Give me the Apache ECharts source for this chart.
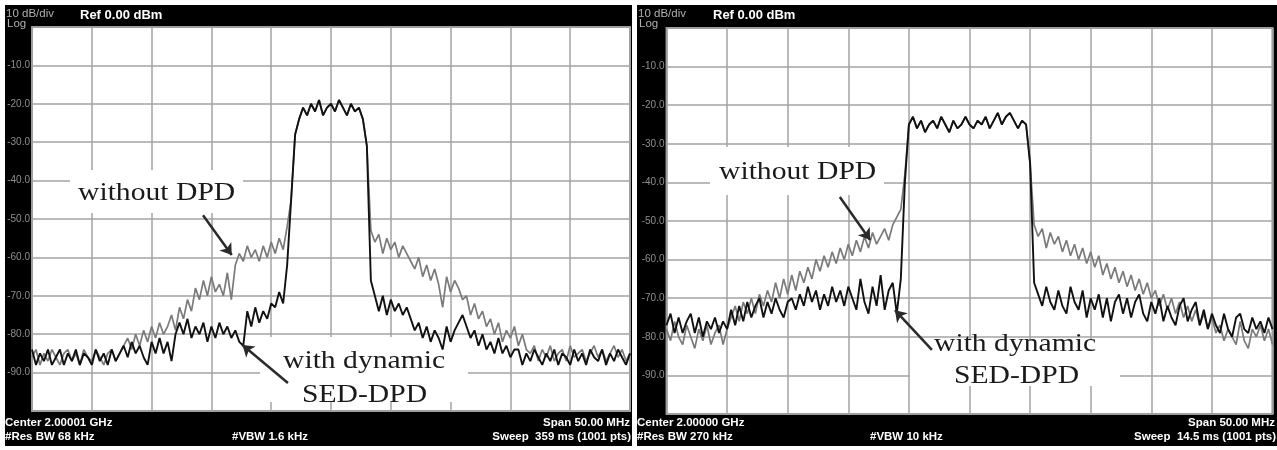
<!DOCTYPE html>
<html>
<head>
<meta charset="utf-8">
<script src="https://cdn.jsdelivr.net/npm/echarts@6/dist/echarts.min.js"></script>
<style>
	html, body { margin: 0; padding: 0; background: #fff; }
	#chart { width: 1277px; height: 450px; }
</style>
</head>
<body>
<div id="chart"></div>
<script>
	// span of each trace (MHz, centred), 151 sweep points
	var spanMHz = 50;

	// left screen: dynamic SED-DPD run
	var leftWithout = [
		-86, -84, -88, -85, -87, -84, -86, -88, -85, -84, -87, -85, -88, -84, -86, -87, -84, -86, -88, -85, -84, -87, -85,
		-83, -81, -84, -80, -83,
		-79, -82, -78, -81, -77, -80, -78, -75, -79,
		-73, -76, -71, -74,
		-68, -71, -66, -70, -65, -69, -67, -70, -64,
		-71,
		-62, -59, -61, -57, -60,
		-58, -61, -57, -60, -56, -59, -55, -58,
		-52, -45, -28,
		-24, -21, -23, -20, -22, -19, -23, -21, -20, -22, -19, -21, -23, -20, -22, -21, -24, -31,
		-53,
		-56, -54, -59, -55, -58, -56, -60, -57, -59, -61,
		-63, -60, -65, -62, -66, -63, -67, -73, -65, -69, -66, -68, -71,
		-70, -75, -72, -76, -74, -78, -76,
		-80, -77, -82, -79, -81, -78, -83, -80, -84,
		-85, -83, -87, -84, -86, -83, -87, -85, -84, -87, -83, -86, -85, -84, -87, -85, -83, -86, -84, -87, -85, -83, -86, -84, -87, -85
	];
	var leftWith = [
		-84, -88, -85, -87, -84, -88, -86, -84, -88, -85, -87, -84, -88, -85, -86, -88, -84, -87, -85, -88, -84, -87, -85,
		-83, -86, -82, -85, -83, -86, -88, -82, -85, -81, -85, -82, -87,
		-80,
		-77, -80, -76, -81, -78, -80, -77, -82, -78, -81, -77, -80, -78, -81, -79, -82,
		-83, -74, -78, -73, -77, -74, -76, -72,
		-73, -69, -72,
		-62, -45, -28,
		-24, -21, -23, -20, -22, -19, -23, -21, -20, -22, -19, -21, -23, -20, -22, -21, -24,
		-31,
		-66,
		-70, -74, -70, -75, -71, -74, -72, -75, -73, -76,
		-79, -77, -81, -78, -82, -79, -81, -84, -78, -82, -79, -77, -75,
		-78, -81, -79, -83, -80, -84, -82, -85, -81, -85, -83, -86, -84,
		-84, -88, -85, -87, -84, -86, -88, -85, -87, -84, -88, -85, -86, -88, -84, -87, -85, -88, -84, -86, -87, -84, -88, -85, -87, -84, -86, -88, -85
	];

	// right screen
	var rightWithout = [
		-78, -81, -76, -80, -82, -77, -80, -83, -78, -81, -77, -82, -79, -77, -82, -78,
		-75, -72, -76, -71, -74, -70, -74, -69, -72,
		-68, -71, -66, -70, -65, -69, -64, -68, -63, -66, -62,
		-65, -60, -63, -59, -62, -58, -61, -57, -60, -56, -59,
		-55, -58, -54, -57, -53, -56, -54, -52, -55, -51, -49,
		-47, -38,
		-25, -23, -26, -24, -27, -25, -24, -26, -23, -25, -27, -24, -26, -25, -23, -25, -26, -24, -25, -23, -26, -24, -22, -25, -23, -22, -24, -26, -24, -25,
		-35,
		-51,
		-54, -52, -57, -53, -56, -54, -58, -55, -59, -56, -60, -57, -61, -58,
		-62, -59, -64, -61, -65, -62, -66, -63, -67, -64, -68, -65, -69, -66, -70,
		-68, -72, -69, -73, -70, -74, -71, -75, -72, -76, -73, -77, -74, -78, -75,
		-79, -77, -81, -78, -80, -82, -76, -81, -83, -78, -80, -77, -81, -78, -82
	];
	var rightWith = [
		-77, -74, -79, -75, -79, -76, -74, -79, -75, -80, -76, -78, -75, -79, -76, -78,
		-73, -77, -72, -76, -71, -75, -72, -70, -75, -71, -74, -70, -73, -75, -71,
		-70, -73, -69, -72, -67, -71, -68, -73, -69, -72, -67, -71, -68, -72, -67,
		-70, -73, -65, -71, -74, -67, -72, -64, -73, -68, -66, -74, -65,
		-40,
		-25, -23, -26, -24, -27, -25, -24, -26, -23, -25, -27, -24, -26, -25, -23, -25, -26, -24, -25, -23, -26, -24, -22, -25, -23, -22, -24, -26, -24, -25,
		-35,
		-66,
		-69, -72, -67, -71, -73, -68, -72, -74, -67, -71, -73, -68, -75, -70,
		-73, -69, -75, -70, -76, -71, -69, -74, -70, -75, -71, -69, -74, -76, -71,
		-74, -70, -76, -72, -75, -77, -72, -70, -76, -73, -71, -77, -73, -78, -74,
		-77, -79, -74, -78, -80, -75, -74, -78, -79, -75, -78, -76, -79, -75, -78
	];

	// screen annotations text
	var leftInfo = ['Center 2.00001 GHz', '#Res BW 68 kHz', '#VBW 1.6 kHz', 'Span 50.00 MHz', 'Sweep  359 ms (1001 pts)'];
	var rightInfo = ['Center 2.00000 GHz', '#Res BW 270 kHz', '#VBW 10 kHz', 'Span 50.00 MHz', 'Sweep  14.5 ms (1001 pts)'];

	// arrows in data units [MHz, dBm]: from -> to
	var leftArrows = [[[-10.7, -49.0], [-8.3, -59.4]], [[-3.6, -92.7], [-7.4, -82.8]]];
	var rightArrows = [[[-10.7, -43.8], [-8.2, -54.9]], [[-3.1, -83.4], [-6.15, -73.1]]];

	function toPairs(vals) {
		var step = spanMHz / (vals.length - 1);
		return vals.map(function (v, i) {
			return [-spanMHz / 2 + i * step, v];
		});
	}

	var panels = [
		{ x: 5, w: 627, left: 32, width: 598, top: 27, height: 384, info: leftInfo, vbw: 232, right: 630,
			boxes: [[70, 170, 173, 43], [260, 337, 208, 65]],
			labels: [['without DPD', 78, 193], ['with dynamic', 283, 361], ['SED-DPD', 302, 395]] },
		{ x: 637, w: 640, left: 666.5, width: 606, top: 28, height: 386, info: rightInfo, vbw: 870, right: 1275,
			boxes: [[710, 147, 174, 48], [910, 340, 210, 46]],
			labels: [['without DPD', 719, 172], ['with dynamic', 934, 344], ['SED-DPD', 954, 376]] }
	];

	var gridCol = '#a3a3a3';
	var infoFont = 'bold 11.5px "Liberation Sans", Arial, sans-serif';
	var graphic = [];

	panels.forEach(function (p) {
		graphic.push({ type: 'rect', z: -10, shape: { x: p.x, y: 5, width: p.w, height: 441 }, style: { fill: '#000' } });
		graphic.push({ type: 'text', z: 5, x: p.x + 1, y: 14, style: { text: '10 dB/div', fill: '#b0b0b0', font: '11.5px "Liberation Sans", Arial', textVerticalAlign: 'middle' } });
		graphic.push({ type: 'text', z: 5, x: p.x + 2, y: 24, style: { text: 'Log', fill: '#b0b0b0', font: '11.5px "Liberation Sans", Arial', textVerticalAlign: 'middle' } });
		graphic.push({ type: 'text', z: 5, x: p.x + (p.x === 5 ? 75 : 76), y: 15, style: { text: 'Ref 0.00 dBm', fill: '#fff', font: 'bold 13px "Liberation Sans", Arial', textVerticalAlign: 'middle' } });

		graphic.push({ type: 'text', z: 5, x: p.x, y: 423, style: { text: p.info[0], fill: '#fff', font: infoFont, textVerticalAlign: 'middle' } });
		graphic.push({ type: 'text', z: 5, x: p.x, y: 437, style: { text: p.info[1], fill: '#fff', font: infoFont, textVerticalAlign: 'middle' } });
		graphic.push({ type: 'text', z: 5, x: p.vbw, y: 437, style: { text: p.info[2], fill: '#fff', font: infoFont, textVerticalAlign: 'middle' } });
		graphic.push({ type: 'text', z: 5, x: p.right, y: 423, style: { text: p.info[3], fill: '#fff', font: infoFont, textAlign: 'right', textVerticalAlign: 'middle' } });
		graphic.push({ type: 'text', z: 5, x: p.right + 1, y: 437, style: { text: p.info[4], fill: '#fff', font: infoFont, textAlign: 'right', textVerticalAlign: 'middle' } });

		p.boxes.forEach(function (b) {
			graphic.push({ type: 'rect', z: 1, shape: { x: b[0], y: b[1], width: b[2], height: b[3] }, style: { fill: '#fff' } });
		});
		p.labels.forEach(function (l) {
			graphic.push({ type: 'text', z: 6, x: l[1], y: l[2], scaleX: 1.14,
				style: { text: l[0], fill: '#1a1a1a', font: '26px "Liberation Serif", "Times New Roman", serif', textVerticalAlign: 'middle' } });
		});
	});

	function makeAxisX(idx) {
		return {
			type: 'value', gridIndex: idx, min: -25, max: 25, interval: 5,
			axisLabel: { show: false }, axisLine: { show: false }, axisTick: { show: false },
			splitLine: { show: true, lineStyle: { color: gridCol, width: 1.5 } }
		};
	}

	function makeAxisY(idx) {
		return {
			type: 'value', gridIndex: idx, min: -100, max: 0, interval: 10,
			axisLine: { show: false }, axisTick: { show: false },
			axisLabel: {
				color: '#8f8f8f', fontSize: 10, fontFamily: '"Liberation Sans", Arial', margin: 2,
				formatter: function (v) {
					return (v === 0 || v === -100) ? '' : v.toFixed(1);
				}
			},
			splitLine: { show: true, lineStyle: { color: gridCol, width: 1.5 } }
		};
	}

	function arrowLine(list) {
		return {
			silent: true,
			animation: false,
			symbol: ['none', 'arrow'],
			symbolSize: 11,
			lineStyle: { color: '#2a2a2a', width: 2.5, type: 'solid' },
			label: { show: false },
			data: list.map(function (a) {
				return [{ coord: a[0] }, { coord: a[1] }];
			})
		};
	}

	function trace(name, idx, vals, color, width, z, arrows) {
		var s = {
			name: name, type: 'line', xAxisIndex: idx, yAxisIndex: idx,
			data: toPairs(vals), symbol: 'none', z: z, silent: true,
			lineStyle: { color: color, width: width }
		};
		if (arrows) s.markLine = arrowLine(arrows);
		return s;
	}

	var chart = echarts.init(document.getElementById('chart'));
	chart.setOption({
		animation: false,
		backgroundColor: '#fff',
		grid: panels.map(function (p) {
			return { left: p.left, top: p.top, width: p.width, height: p.height, show: true,
				backgroundColor: '#fff', borderColor: '#8e8e8e', borderWidth: 2 };
		}),
		xAxis: [makeAxisX(0), makeAxisX(1)],
		yAxis: [makeAxisY(0), makeAxisY(1)],
		graphic: graphic,
		series: [
			trace('without DPD', 0, leftWithout, '#7a7a7a', 1.7, 2),
			trace('with dynamic SED-DPD', 0, leftWith, '#111', 1.9, 3, leftArrows),
			trace('without DPD', 1, rightWithout, '#7a7a7a', 1.7, 2),
			trace('with dynamic SED-DPD', 1, rightWith, '#111', 1.9, 3, rightArrows)
		]
	});
</script>
</body>
</html>
